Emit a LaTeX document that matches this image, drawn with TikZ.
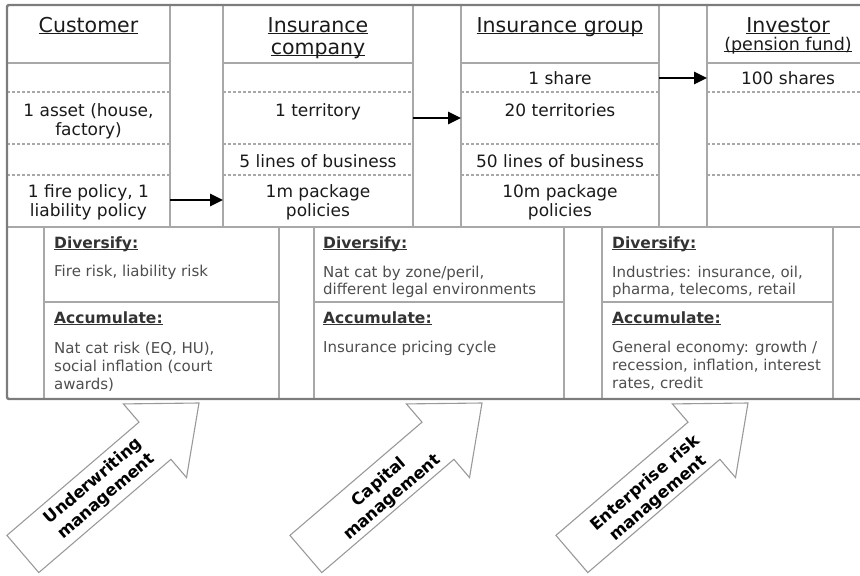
\documentclass[tikz,border=0pt]{standalone}
\usepackage{fontspec}
\setmainfont{DejaVu Sans}
\usetikzlibrary{arrows.meta}
\definecolor{gridc}{HTML}{A8A8A8}
\definecolor{framec}{HTML}{7C7C7C}
\definecolor{txt}{HTML}{1A1A1A}
\definecolor{soft}{HTML}{4E4E4E}
\definecolor{subc}{HTML}{333333}
\definecolor{arrc}{HTML}{9A9A9A}
\newsavebox{\ulbox}
\newcommand{\myul}[1]{\sbox{\ulbox}{#1}\rlap{\rule[-2.4pt]{\wd\ulbox}{1.1pt}}\usebox{\ulbox}}
\tikzset{
  hdr/.style={font=\fontsize{20.5}{22}\selectfont, text=txt, align=center, anchor=base, inner sep=0pt},
  cell/.style={font=\fontsize{17}{19}\selectfont, text=txt, align=center, anchor=base, inner sep=0pt},
  subhd/.style={font=\fontsize{15.5}{18}\selectfont\bfseries, text=subc, anchor=base west, inner sep=0pt},
  body/.style={font=\fontsize{15}{18}\selectfont, text=soft, align=left, anchor=base west, inner sep=0pt},
  bodyt/.style={body, font=\fontsize{15}{17}\selectfont},
  gridline/.style={draw=gridc, line width=1.3pt},
  dgridline/.style={draw=gridc, line width=1.2pt, dash pattern=on 3pt off 2pt},
  frameline/.style={draw=framec, line width=2.4pt},
  flow/.style={-{Triangle[length=13pt,width=12pt]}, line width=2.6pt, black},
  bigarrow/.style={draw=arrc, line width=1.1pt, fill=white, line join=miter},
  arrlabel/.style={font=\fontsize{16.5}{20}\selectfont\bfseries, text=black, align=center, rotate=40.6, inner sep=0pt},
  bigarr/.pic={\draw[bigarrow] (0,0) -- (-58,48.5) -- (-58,24.5) -- (-232,24.5) -- (-232,-24.5) -- (-58,-24.5) -- (-58,-48.5) -- cycle;}
}
\begin{document}
\begin{tikzpicture}[x=1pt,y=-1pt]
\useasboundingbox (0,0) rectangle (860,576);
% top grid
\foreach \x in {170,223,413,461,659,707} \draw[gridline] (\x,5) -- (\x,227);
\foreach \a/\b in {7/170,223/413,461/659,707/860} {
  \draw[gridline] (\a,63) -- (\b,63);
  \foreach \y in {92,144,175} \draw[dgridline] (\a,\y) -- (\b,\y);
}
\draw[gridline] (7,227) -- (860,227);
% bottom grid
\foreach \x in {44,279,314,564,602,833} \draw[gridline] (\x,227) -- (\x,399);
\foreach \a/\b in {44/279,314/564,602/833} \draw[gridline] (\a,302) -- (\b,302);
% frame
\draw[frameline, rounded corners=2pt] (860,5) -- (7,5) -- (7,399) -- (860,399);

% headers (base anchor = last line baseline)
\node[hdr] (hcust) at (88.5,32) {\myul{Customer}};
\node[hdr] (hinsco) at (318,54) {\myul{Insurance}\\\myul{company}};
\node[hdr] (hgroup) at (560,32) {\myul{Insurance group}};
\node[hdr] (hinv) at (788,32) {\myul{Investor}};
\node[hdr, font=\fontsize{17.5}{20}\selectfont] (hinv2) at (788,50) {\myul{(pension fund)}};

% cells
\node[cell] (c2) at (88.5,135) {1 asset (house,\\factory)};
\node[cell] (c4) at (88.5,216) {1 fire policy, 1\\liability policy};
\node[cell] (i2) at (318,116) {1 territory};
\node[cell] (i3) at (318,167) {5 lines of business};
\node[cell] (i4) at (318,216) {1m package\\policies};
\node[cell] (g1) at (560,84) {1 share};
\node[cell] (g2) at (560,116) {20 territories};
\node[cell] (g3) at (560,167) {50 lines of business};
\node[cell] (g4) at (560,216) {10m package\\policies};
\node[cell] (v1) at (788,84) {100 shares};

% flow arrows
\coordinate (f1a) at (170,200); \coordinate (f1b) at (223,200);
\coordinate (f2a) at (413,118); \coordinate (f2b) at (461,118);
\coordinate (f3a) at (659,78);  \coordinate (f3b) at (707,78);
\draw[flow] (f1a) -- (f1b);
\draw[flow] (f2a) -- (f2b);
\draw[flow] (f3a) -- (f3b);

% bottom boxes
\node[subhd] (d1) at (54,248) {\myul{Diversify:}};
\node[bodyt] (d1t) at (54,276) {Fire risk, liability risk};
\node[subhd] (a1) at (54,323) {\myul{Accumulate:}};
\node[body] (a1t) at (54,389) {Nat cat risk (EQ, HU),\\social inflation (court\\awards)};

\node[subhd] (d2) at (323,248) {\myul{Diversify:}};
\node[bodyt] (d2t) at (323,294) {Nat cat by zone/peril,\\different legal environments};
\node[subhd] (a2) at (323,323) {\myul{Accumulate:}};
\node[body] (a2t) at (323,352) {Insurance pricing cycle};

\node[subhd] (d3) at (612,248) {\myul{Diversify:}};
\node[bodyt] (d3t) at (612,294) {Industries: insurance, oil,\\pharma, telecoms, retail};
\node[subhd] (a3) at (612,323) {\myul{Accumulate:}};
\node[body] (a3t) at (612,388) {General economy: growth /\\recession, inflation, interest\\rates, credit};

% big arrows
\pic[rotate=40.6] (uarr) at (199,403) {bigarr};
\pic[rotate=40.6] (carr) at (482,403) {bigarr};
\pic[rotate=40.6] (earr) at (748,403) {bigarr};
\node[arrlabel] (ul) at (100,489) {Underwriting\\management};
\node[arrlabel] (cl) at (386,490) {Capital\\management};
\node[arrlabel] (el) at (652,491) {Enterprise risk\\management};
\end{tikzpicture}
\end{document}
